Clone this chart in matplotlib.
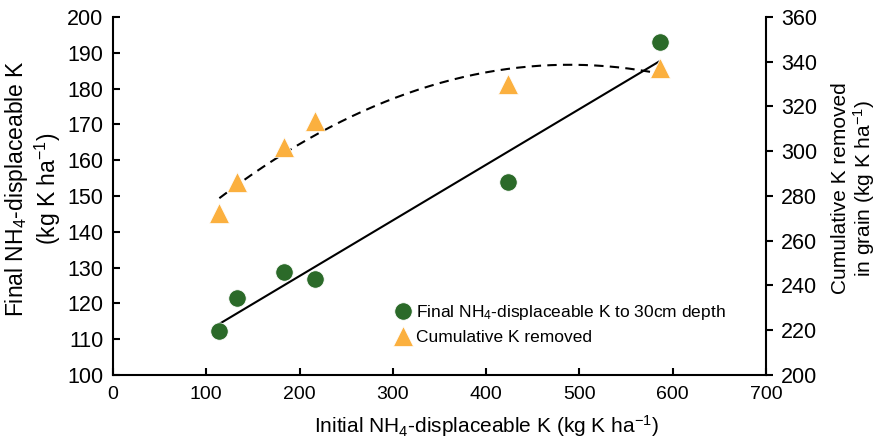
import numpy as np
import matplotlib
matplotlib.use("Agg")
import matplotlib.pyplot as plt

plt.rcParams['font.family'] = ['Liberation Sans', 'DejaVu Sans']
plt.rcParams['mathtext.fontset'] = 'custom'
plt.rcParams['mathtext.rm'] = 'Liberation Sans'
plt.rcParams['mathtext.it'] = 'Liberation Sans'

# data
initial_k = [114, 133, 183, 217, 423, 586]
final_k = [112.3, 121.6, 128.9, 126.9, 154.0, 193.1]
cumulative_k = [272.5, 286.3, 301.8, 313.7, 330.1, 337.2]

green = '#2b6a29'
orange = '#fbb03f'

W, H = 879, 440
fig = plt.figure(figsize=(W / 100, H / 100), dpi=100)
ax = fig.add_axes([113 / W, 65 / H, 653 / W, 358 / H])
ax2 = ax.twinx()

# linear fit for final K, quadratic for cumulative removal
x = np.array(initial_k)
p1 = np.polyfit(x, final_k, 1)
p2 = np.polyfit(x, cumulative_k, 2)
xs = np.linspace(x.min(), x.max(), 200)

ax.plot(xs, np.polyval(p1, xs), color='black', lw=1.5, zorder=2)
ax2.plot(xs, np.polyval(p2, xs), color='black', lw=1.5, ls=(0, (4.5, 3)), zorder=2)

h1, = ax.plot(initial_k, final_k, 'o', ms=12.5, color=green, mec='white', mew=0.5,
              zorder=3, label='Final NH$_4$-displaceable K to 30cm depth')
h2, = ax2.plot(initial_k, cumulative_k, '^', ms=15, color=orange, mec='white', mew=0.5,
               zorder=3, label='Cumulative K removed')

ax.set_xlim(0, 700)
ax.set_ylim(100, 200)
ax2.set_ylim(200, 360)
ax.set_xticks(range(0, 701, 100))
ax.set_yticks(range(100, 201, 10))
ax2.set_yticks(range(200, 361, 20))

for a in (ax, ax2):
    a.spines['top'].set_visible(False)
    for s in a.spines.values():
        s.set_linewidth(1.5)
ax.spines['right'].set_visible(False)
ax2.spines['left'].set_visible(False)
ax2.spines['bottom'].set_visible(False)

ax.tick_params(axis='y', direction='in', length=5, width=1.5, labelsize=15.5, pad=7)
ax.tick_params(axis='x', direction='in', length=5, width=1.5, labelsize=14, pad=8)
ax2.tick_params(axis='y', direction='out', length=5, width=1.5, labelsize=15.5, pad=6)

# axis titles placed where the reference has them
fig.text(486 / W, 1 - 426 / H, 'Initial NH$_4$-displaceable K (kg K ha$^{-1}$)',
         fontsize=15, ha='center', va='center')
fig.text(33 / W, 1 - 189 / H, 'Final NH$_4$-displaceable K\n(kg K ha$^{-1}$)',
         fontsize=16.5, rotation=90, ha='center', va='center', linespacing=1.15)
fig.text(854 / W, 1 - 188 / H, 'Cumulative K removed\nin grain (kg K ha$^{-1}$)',
         fontsize=15, rotation=90, ha='center', va='center', linespacing=1.05)

ax.legend(handles=[h1, h2], loc='upper left', bbox_to_anchor=(0.416, 0.22),
          frameon=False, fontsize=12.5, handletextpad=0.1, borderaxespad=0,
          labelspacing=0.45, handlelength=1.3)

fig.savefig('out.png', dpi=100)
